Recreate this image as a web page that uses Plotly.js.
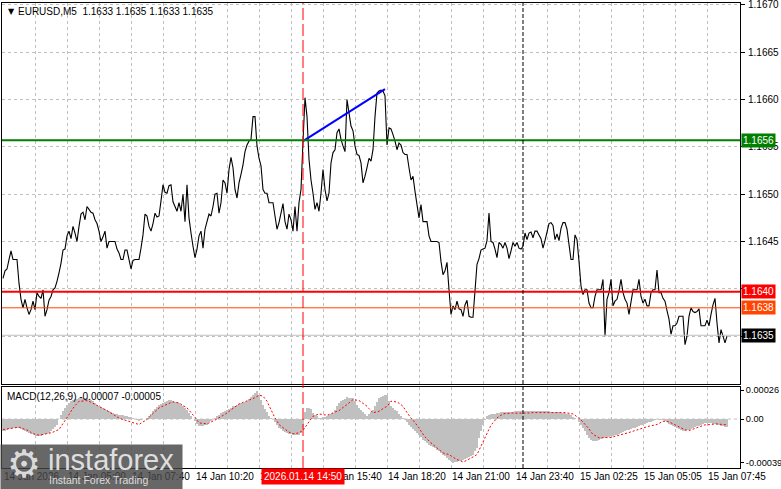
<!DOCTYPE html>
<html><head><meta charset="utf-8">
<script src="https://cdn.plot.ly/plotly-3.0.1.min.js"></script>
<style>html,body{margin:0;padding:0;background:#fff;}#chart{width:781px;height:489px;}</style>
</head><body><div id="chart"></div>
<script>
// ---------- DATA ----------
const symbolTitle = "EURUSD,M5";
const headerOHLC = [1.1633, 1.1635, 1.1633, 1.1635];
const macdTitle = "MACD(12,26,9) -0.00007 -0.00005";

// close prices, one per M5 bar (bar 0 = 14 Jan 02:20)
const closes = [
1.16411,1.16419,1.16421,1.16431,1.16440,1.16431,1.16431,1.16431,1.16406,1.16389,
1.16380,1.16389,1.16380,1.16373,1.16378,1.16387,1.16378,1.16396,1.16392,1.16390,
1.16399,1.16371,1.16378,1.16388,1.16392,1.16399,1.16401,1.16408,1.16417,1.16427,
1.16441,1.16442,1.16456,1.16461,1.16453,1.16466,1.16459,1.16450,1.16466,1.16479,
1.16481,1.16473,1.16487,1.16484,1.16481,1.16480,1.16473,1.16469,1.16461,1.16450,
1.16455,1.16461,1.16443,1.16450,1.16450,1.16450,1.16450,1.16442,1.16438,1.16431,
1.16431,1.16441,1.16441,1.16431,1.16421,1.16430,1.16431,1.16431,1.16431,1.16443,
1.16457,1.16479,1.16477,1.16466,1.16461,1.16469,1.16480,1.16476,1.16477,1.16493,
1.16510,1.16502,1.16501,1.16509,1.16510,1.16492,1.16487,1.16482,1.16491,1.16482,
1.16500,1.16471,1.16510,1.16475,1.16459,1.16445,1.16433,1.16442,1.16456,1.16461,
1.16443,1.16463,1.16471,1.16479,1.16477,1.16487,1.16500,1.16501,1.16480,1.16491,
1.16515,1.16512,1.16501,1.16526,1.16539,1.16528,1.16505,1.16496,1.16512,1.16521,
1.16531,1.16545,1.16552,1.16556,1.16558,1.16582,1.16582,1.16551,1.16538,1.16530,
1.16505,1.16501,1.16501,1.16491,1.16491,1.16491,1.16477,1.16463,1.16470,1.16480,
1.16490,1.16471,1.16463,1.16479,1.16473,1.16461,1.16487,1.16461,1.16491,1.16505,
1.16556,1.16602,1.16582,1.16537,1.16515,1.16501,1.16484,1.16491,1.16482,1.16501,
1.16526,1.16505,1.16493,1.16501,1.16533,1.16544,1.16547,1.16565,1.16569,1.16558,
1.16551,1.16545,1.16600,1.16586,1.16572,1.16567,1.16551,1.16542,1.16541,1.16533,
1.16512,1.16519,1.16528,1.16538,1.16535,1.16547,1.16582,1.16607,1.16609,1.16610,
1.16609,1.16604,1.16552,1.16570,1.16569,1.16563,1.16556,1.16547,1.16554,1.16552,
1.16544,1.16542,1.16542,1.16528,1.16515,1.16519,1.16503,1.16489,1.16475,1.16489,
1.16471,1.16471,1.16471,1.16456,1.16450,1.16450,1.16450,1.16450,1.16449,1.16429,
1.16415,1.16419,1.16428,1.16399,1.16373,1.16382,1.16378,1.16387,1.16379,1.16378,
1.16371,1.16383,1.16388,1.16371,1.16370,1.16370,1.16398,1.16426,1.16432,1.16441,
1.16442,1.16443,1.16451,1.16480,1.16450,1.16449,1.16442,1.16433,1.16449,1.16447,
1.16443,1.16449,1.16443,1.16432,1.16440,1.16449,1.16445,1.16449,1.16443,1.16442,
1.16445,1.16459,1.16452,1.16459,1.16460,1.16454,1.16461,1.16461,1.16457,1.16453,
1.16443,1.16451,1.16460,1.16469,1.16470,1.16467,1.16452,1.16458,1.16451,1.16464,
1.16470,1.16470,1.16463,1.16447,1.16431,1.16431,1.16457,1.16452,1.16429,1.16403,
1.16394,1.16399,1.16399,1.16385,1.16380,1.16380,1.16392,1.16399,1.16399,1.16399,
1.16410,1.16350,1.16389,1.16396,1.16410,1.16382,1.16387,1.16389,1.16398,1.16410,
1.16396,1.16389,1.16385,1.16373,1.16386,1.16399,1.16399,1.16399,1.16410,1.16392,
1.16385,1.16389,1.16382,1.16382,1.16396,1.16399,1.16399,1.16420,1.16396,1.16396,
1.16390,1.16387,1.16377,1.16368,1.16352,1.16361,1.16361,1.16364,1.16371,1.16371,
1.16371,1.16341,1.16350,1.16371,1.16380,1.16376,1.16375,1.16376,1.16379,1.16361,
1.16361,1.16361,1.16367,1.16361,1.16373,1.16383,1.16390,1.16364,1.16343,1.16357,
1.16350,1.16343,1.16350];

// MACD main (histogram) and signal, in units of 0.00001
const MACD_UNIT = 1e-5;
const macdMain = [
-10.9,-10.3,-9.7,-9.1,-8.5,-7.9,-7.9,-7.9,-7.9,-8.8,
-9.7,-10.6,-11.5,-12.4,-13.0,-13.6,-14.2,-14.8,-15.4,-14.8,
-14.2,-13.6,-13.0,-12.4,-10.6,-8.8,-6.7,-4.9,0.1,3.7,
7.0,10.0,13.0,14.5,16.0,17.5,18.1,18.4,19.0,19.0,
19.0,19.0,19.0,18.1,16.9,16.0,14.5,13.0,11.5,10.6,
10.0,9.1,8.5,7.6,6.4,5.5,4.9,4.6,4.0,3.7,
3.4,2.8,2.5,1.9,1.6,1.0,0.1,-1.0,-1.9,-1.3,
-0.4,0.4,1.0,3.1,4.9,7.0,9.1,10.9,13.0,13.9,
14.8,15.7,16.6,17.5,16.9,16.3,15.7,15.1,14.5,13.0,
11.5,10.0,8.5,5.8,2.8,0.1,-1.9,-4.3,-6.4,-6.1,
-5.8,-5.2,-4.9,-3.1,-1.6,0.1,1.3,2.8,4.0,5.2,
6.1,7.3,8.2,9.4,10.3,11.5,12.1,12.7,13.3,14.2,
14.8,15.4,16.0,17.8,19.9,21.7,23.8,25.6,21.4,17.2,
13.0,9.4,6.1,2.5,1.3,0.1,-2.5,-5.2,-7.9,-9.1,
-10.3,-11.2,-12.4,-13.0,-13.3,-13.9,-13.9,-13.9,-13.9,-12.4,
-9.0,6.0,10.0,10.0,9.0,5.5,4.0,2.5,1.0,1.3,
1.6,1.9,2.5,3.4,4.6,5.5,8.5,11.5,14.5,16.0,
17.2,18.4,19.6,19.3,19.3,19.0,16.0,13.0,10.0,8.2,
6.4,4.3,2.5,4.6,6.4,8.5,12.1,15.4,19.0,19.9,
20.5,21.4,22.0,16.6,11.5,10.0,8.5,7.0,4.9,3.1,
1.0,-1.0,-2.8,-4.9,-6.7,-8.5,-10.6,-12.4,-14.5,-16.3,
-18.4,-19.9,-21.4,-22.9,-24.1,-25.3,-26.2,-27.4,-28.9,-30.4,
-31.9,-33.4,-34.9,-36.4,-37.9,-39.4,-38.8,-38.5,-37.9,-37.3,
-36.4,-35.8,-34.9,-34.0,-32.8,-31.9,-28.9,-25.9,-16.9,-10.9,
-4.9,-1.0,2.5,4.0,4.3,4.6,4.9,5.2,5.5,6.1,
6.4,6.4,6.7,6.7,6.7,6.7,7.0,7.0,7.0,7.0,
7.0,7.0,7.0,7.0,7.3,7.3,7.6,7.6,7.6,7.3,
7.3,7.0,7.0,7.0,6.7,6.7,6.4,6.1,6.1,5.8,
5.5,5.2,4.9,4.6,3.4,2.2,1.0,-0.4,-2.8,-5.5,
-7.9,-10.9,-13.9,-16.9,-18.4,-19.9,-19.6,-19.3,-18.7,-17.8,
-16.9,-16.6,-16.0,-15.7,-15.1,-14.8,-14.2,-13.9,-13.0,-12.4,
-11.5,-10.9,-10.0,-9.4,-8.8,-8.2,-7.6,-7.0,-6.4,-5.5,
-4.9,-4.3,-3.7,-3.1,-2.5,-1.6,-1.0,-0.4,-0.7,-1.0,
-1.3,-2.2,-3.1,-4.3,-5.2,-6.1,-7.0,-7.9,-8.8,-10.0,
-10.9,-10.3,-10.0,-9.4,-8.8,-7.9,-7.3,-6.4,-5.8,-4.9,
-4.3,-4.0,-3.7,-3.4,-3.7,-4.3,-4.6,-5.2,-5.5,-6.1,
-6.4,-7.3,-7.0];
const macdSignal = [
-9.4,-9.1,-8.8,-8.5,-8.2,-7.9,-7.6,-7.6,-7.3,-7.9,
-8.5,-8.8,-9.4,-10.6,-12.1,-13.3,-13.6,-14.2,-14.5,-14.2,
-13.9,-13.9,-13.6,-13.3,-12.4,-11.8,-10.9,-10.3,-9.4,-6.7,
-4.3,-1.6,1.0,4.0,7.0,10.0,12.1,13.9,16.0,16.0,
16.3,16.3,16.6,16.0,15.1,14.5,13.6,12.4,11.5,10.6,
9.7,8.5,7.6,6.4,5.2,4.0,3.1,1.9,1.0,0.1,
-0.4,-1.3,-1.9,-2.5,-2.8,-3.4,-4.0,-4.3,-4.9,-3.7,
-2.8,-1.6,-0.4,1.6,3.4,5.5,7.0,8.5,10.0,10.9,
11.8,12.7,13.6,14.2,14.8,15.4,15.1,14.8,14.5,13.3,
12.1,11.2,10.0,7.9,6.1,4.0,1.6,-1.0,-3.4,-3.7,
-3.7,-4.0,-4.3,-3.4,-2.8,-1.9,-1.0,0.1,1.0,2.2,
3.4,4.3,5.5,7.0,8.5,10.0,11.2,12.4,13.6,14.2,
14.8,15.4,16.0,16.9,17.5,18.4,19.3,20.5,21.4,21.1,
20.5,18.4,16.0,12.1,7.9,4.0,1.0,-1.9,-4.9,-6.4,
-7.9,-9.4,-10.9,-11.8,-12.4,-13.3,-13.0,-12.7,-12.4,-11.2,
-10.3,-7.6,-4.9,-2.5,0.1,2.5,3.1,4.0,4.6,4.3,
4.0,3.7,3.4,4.0,4.9,5.5,6.1,7.0,7.6,8.8,
10.3,11.5,13.0,14.5,16.0,17.5,17.2,16.9,16.6,15.4,
14.2,12.7,11.5,9.4,7.6,5.5,6.1,6.4,7.0,8.2,
9.4,10.3,11.5,13.6,16.0,15.7,15.7,15.4,14.2,12.7,
11.5,8.5,5.5,2.5,0.7,-1.0,-3.1,-4.9,-7.9,-10.9,
-13.9,-16.0,-17.8,-19.9,-21.4,-22.9,-24.4,-25.9,-27.4,-28.9,
-30.4,-31.0,-31.3,-31.9,-33.1,-34.3,-35.2,-36.4,-37.0,-37.9,
-38.5,-37.9,-37.0,-36.4,-35.2,-34.0,-33.1,-31.9,-28.0,-23.8,
-19.9,-16.0,-11.8,-7.9,-5.5,-3.4,-1.0,1.0,2.2,3.4,
4.6,4.9,5.2,5.5,5.5,5.5,5.2,5.2,5.2,4.9,
4.9,5.1,5.2,5.5,5.5,5.8,5.8,6.1,6.1,6.1,
6.4,6.4,6.4,6.4,6.4,6.4,6.4,6.1,6.1,6.1,
6.1,5.8,5.5,5.2,4.9,4.6,3.4,2.2,1.0,-0.7,
-2.8,-4.6,-6.4,-8.8,-11.5,-13.9,-14.8,-16.0,-16.9,-16.9,
-16.9,-16.9,-16.9,-16.9,-16.5,-16.0,-15.6,-15.1,-14.7,-14.2,
-13.9,-13.3,-12.7,-12.1,-11.5,-10.9,-10.0,-9.4,-8.8,-8.2,
-7.6,-7.3,-6.7,-6.4,-6.1,-5.8,-5.2,-4.9,-4.0,-2.8,
-1.9,-2.2,-2.2,-2.5,-3.4,-4.3,-5.5,-6.4,-7.3,-8.5,
-9.4,-9.7,-10.0,-10.3,-9.7,-9.1,-8.5,-7.9,-7.0,-6.4,
-5.5,-5.2,-5.2,-4.9,-4.9,-4.6,-4.6,-4.3,-4.6,-4.6,
-4.9,-5.2,-5.2];

// horizontal levels
const levelValues = [1.16557, 1.16397, 1.16380, 1.16351];
const levelLabels = ["1.1656", "1.1640", "1.1638", "1.1635"];
const levelColors = ["#008000", "#ff0000", "#ff4500", "#c0c0c0"];
const levelWidths = [2, 2, 1, 1];
const levelBoxColors = ["#008000", "#ff0000", "#ff4500", "#000000"];

// trend line (blue)
const trendBars = [150, 191];
const trendPrices = [1.16556, 1.16611];

// vertical markers
const crosshairBar = 150;
const crosshairLabel = "2026.01.14 14:50";
const daySeparatorBar = 260;

// time axis labels
const timeTickBars = [0, 32, 64, 96, 128, 160, 192, 224, 256, 288, 320, 352];
const timeTickLabels = ["14 Jan 2026", "14 Jan 05:00", "14 Jan 07:40", "14 Jan 10:20", "14 Jan 13:00",
  "14 Jan 15:40", "14 Jan 18:20", "14 Jan 21:00", "14 Jan 23:40", "15 Jan 02:25", "15 Jan 05:05", "15 Jan 07:45"];
const gridBars = [16,32,48,64,80,96,112,128,144,160,176,192,208,224,240,256,272,288,304,320,336,352];

// price axis ticks (1.1640 / 1.1635 labels are covered by the level boxes)
const priceTicks = [1.1635, 1.1640, 1.1645, 1.1650, 1.1655, 1.1660, 1.1665, 1.1670];
const priceTickText = ["", "", "1.1645", "1.1650", "1.1655", "1.1660", "1.1665", "1.1670"];
const macdTicks = [0.00026, 0, -0.00039];
const macdTickText = ["0.00026", "0.00", "-0.00039"];

// ---------- LAYOUT HELPERS ----------
const PL = 2, PR = 740, PT = 3, PB = 468;
const pxX = x => (x - PL) / (PR - PL);
const pxY = y => (PB - y) / (PB - PT);
const FONT = "Liberation Sans, Arial, sans-serif";
const FS = 10;

const bars = closes.map((_, i) => i);
const macdMainV = macdMain.map(v => v * MACD_UNIT);
const macdSignalV = macdSignal.map(v => v * MACD_UNIT);

const traces = [
  { x: bars, y: closes, type: "scatter", mode: "lines", xaxis: "x", yaxis: "y",
    line: { color: "#000000", width: 1.1, simplify: false }, hoverinfo: "skip" },
  { x: trendBars, y: trendPrices, type: "scatter", mode: "lines", xaxis: "x", yaxis: "y",
    line: { color: "#0000ff", width: 2 }, hoverinfo: "skip" },
  { x: bars, y: macdMainV, type: "bar", xaxis: "x2", yaxis: "y2", width: 1,
    marker: { color: "#c0c0c0", line: { width: 0 } }, hoverinfo: "skip" },
  { x: bars, y: macdSignalV, type: "scatter", mode: "lines", xaxis: "x2", yaxis: "y2",
    line: { color: "#ff0000", width: 1, dash: "2px,2px" }, hoverinfo: "skip" }
];

const shapes = [];
shapes.push({ type: "line", xref: "paper", yref: "y2", x0: 0, x1: 1, y0: 0, y1: 0,
  line: { color: "#c0c0c0", width: 1, dash: "3px,3px" }, layer: "below" });
levelValues.forEach((v, k) => {
  shapes.push({ type: "line", xref: "paper", yref: "y", x0: 0, x1: 1, y0: v, y1: v,
    line: { color: levelColors[k], width: levelWidths[k] }, layer: "above" });
});
shapes.push({ type: "line", xref: "x", yref: "paper", x0: daySeparatorBar, x1: daySeparatorBar, y0: 0, y1: 1,
  line: { color: "#000000", width: 1, dash: "4px,2px" }, layer: "above" });
shapes.push({ type: "line", xref: "x", yref: "paper", x0: crosshairBar, x1: crosshairBar, y0: 0, y1: 1,
  line: { color: "#ff0000", width: 1, dash: "12px,4px" }, layer: "above" });

const annotations = [];
annotations.push({ xref: "paper", yref: "paper", x: pxX(6), y: pxY(11), xanchor: "left", yanchor: "middle",
  text: "▼", showarrow: false, font: { family: "DejaVu Sans, sans-serif", size: 8, color: "#000" } });
annotations.push({ xref: "paper", yref: "paper", x: pxX(16), y: pxY(11), xanchor: "left", yanchor: "middle",
  text: symbolTitle + "\u00a0\u00a0" + headerOHLC.map(v => v.toFixed(4)).join(" "), showarrow: false,
  font: { family: FONT, size: FS, color: "#000" } });
annotations.push({ xref: "paper", yref: "paper", x: pxX(5), y: pxY(396), xanchor: "left", yanchor: "middle",
  text: macdTitle, showarrow: false, font: { family: FONT, size: FS, color: "#000" } });
timeTickBars.forEach((b, k) => {
  annotations.push({ xref: "x2", yref: "paper", x: b, y: pxY(477), xanchor: "left", yanchor: "middle",
    xshift: -1, text: timeTickLabels[k], showarrow: false, font: { family: FONT, size: FS, color: "#000" } });
});
annotations.push({ xref: "x2", yref: "paper", x: crosshairBar, y: pxY(477), xanchor: "center", yanchor: "middle",
  text: crosshairLabel, showarrow: false, bgcolor: "#ff0000", borderpad: 2,
  font: { family: FONT, size: FS, color: "#ffffff" } });
levelValues.forEach((v, k) => {
  annotations.push({ xref: "paper", yref: "y", x: 1, y: v, xanchor: "left", yanchor: "middle", xshift: 1,
    text: levelLabels[k], showarrow: false, bgcolor: levelBoxColors[k], borderpad: 1,
    font: { family: FONT, size: FS, color: "#ffffff" } });
});
// watermark
annotations.push({ xref: "paper", yref: "paper", x: pxX(0), y: pxY(444), xanchor: "left", yanchor: "top",
  text: " ", width: 181, height: 46, borderpad: 0, bgcolor: "rgba(70,70,70,0.82)", showarrow: false });
annotations.push({ xref: "paper", yref: "paper", x: pxX(5), y: pxY(464), xanchor: "left", yanchor: "middle",
  text: "⚙", showarrow: false, font: { family: "DejaVu Sans, sans-serif", size: 38, color: "rgba(235,235,235,0.9)" } });
annotations.push({ xref: "paper", yref: "paper", x: pxX(46), y: pxY(460), xanchor: "left", yanchor: "middle",
  text: "instaforex", showarrow: false, font: { family: FONT, size: 29, color: "rgba(235,235,235,0.92)" } });
annotations.push({ xref: "paper", yref: "paper", x: pxX(47), y: pxY(480), xanchor: "left", yanchor: "middle",
  text: "Instant Forex Trading", showarrow: false, font: { family: FONT, size: 10.5, color: "rgba(235,235,235,0.9)" } });

const axisX = {
  range: [-0.5, 368.5], tickvals: gridBars, showticklabels: false, ticks: "",
  showgrid: true, gridcolor: "#c0c0c0", gridwidth: 1, griddash: "3px,3px",
  showline: true, mirror: true, linecolor: "#000", linewidth: 1, zeroline: false, fixedrange: true
};

const layout = {
  width: 781, height: 489,
  margin: { l: PL, r: 781 - PR, t: PT, b: 489 - PB, pad: 0 },
  paper_bgcolor: "#ffffff", plot_bgcolor: "#ffffff",
  showlegend: false, bargap: 0,
  font: { family: FONT, size: FS, color: "#000" },
  xaxis: Object.assign({}, axisX, { anchor: "y" }),
  xaxis2: Object.assign({}, axisX, { anchor: "y2", matches: "x" }),
  yaxis: {
    domain: [pxY(384), 1], range: [1.162995, 1.16702], side: "right",
    tickvals: priceTicks, ticktext: priceTickText, ticks: "outside", ticklen: 4, tickcolor: "#000",
    ticklabelstandoff: 1, ticklabeloverflow: "allow",
    showgrid: true, gridcolor: "#c0c0c0", griddash: "3px,3px",
    showline: true, mirror: true, linecolor: "#000", linewidth: 1, zeroline: false,
    tickfont: { family: FONT, size: FS, color: "#000" }
  },
  yaxis2: {
    domain: [0, pxY(387)], range: [-0.000440, 0.000288], side: "right",
    tickvals: macdTicks, ticktext: macdTickText, ticks: "outside", ticklen: 3, tickcolor: "#000",
    ticklabelstandoff: 0, ticklabeloverflow: "allow",
    showgrid: false, showline: true, mirror: true, linecolor: "#000", linewidth: 1, zeroline: false,
    tickfont: { family: FONT, size: 9.2, color: "#000" }
  },
  shapes: shapes,
  annotations: annotations
};

Plotly.newPlot("chart", traces, layout, { staticPlot: true, displayModeBar: false });
</script>
</body></html>
